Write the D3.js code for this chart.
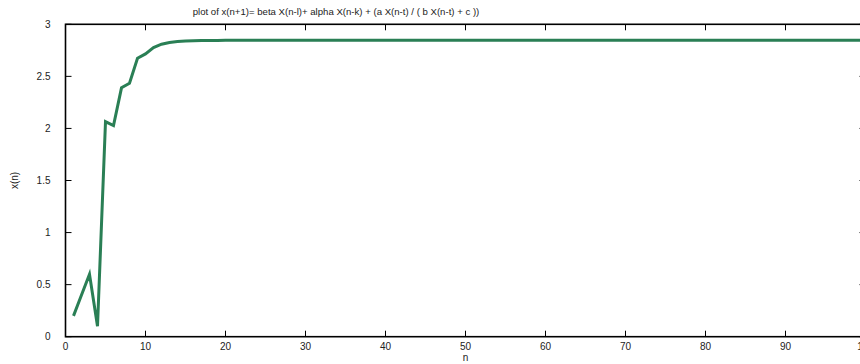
<!DOCTYPE html>
<html><head><meta charset="utf-8">
<script src="https://cdn.jsdelivr.net/npm/d3@7"></script>
<style>body{margin:0;background:#fff}svg{display:block}text{font-family:"Liberation Sans",Arial,sans-serif;fill:#222}</style>
</head><body>
<svg id="c" width="860" height="364"></svg>
<script>
const title = "plot of x(n+1)= beta X(n-l)+ alpha X(n-k) + (a X(n-t) / ( b X(n-t) + c ))";
const xLabel = "n";
const yLabel = "x(n)";
const xTicks = [0,10,20,30,40,50,60,70,80,90,100];
const yTicks = [0,0.5,1,1.5,2,2.5,3];
const yTickLabels = ["0","0.5","1","1.5","2","2.5","3"];
const nValues = [1,2,3,4,5,6,7,8,9,10,11,12,13,14,15,16,17,18,19,20,21,22,23,24,25,26,27,28,29,30,31,32,33,34,35,36,37,38,39,40,41,42,43,44,45,46,47,48,49,50,51,52,53,54,55,56,57,58,59,60,61,62,63,64,65,66,67,68,69,70,71,72,73,74,75,76,77,78,79,80,81,82,83,84,85,86,87,88,89,90,91,92,93,94,95,96,97,98,99,100];
const xValues = [0.2,0.4,0.6,0.1,2.065,2.027,2.39,2.434,2.674,2.716,2.776,2.809,2.826,2.834,2.839,2.842,2.844,2.845,2.845,2.846,2.846,2.846,2.846,2.846,2.846,2.846,2.846,2.846,2.846,2.846,2.846,2.846,2.846,2.846,2.846,2.846,2.846,2.846,2.846,2.846,2.846,2.846,2.846,2.846,2.846,2.846,2.846,2.846,2.846,2.846,2.846,2.846,2.846,2.846,2.846,2.846,2.846,2.846,2.846,2.846,2.846,2.846,2.846,2.846,2.846,2.846,2.846,2.846,2.846,2.846,2.846,2.846,2.846,2.846,2.846,2.846,2.846,2.846,2.846,2.846,2.846,2.846,2.846,2.846,2.846,2.846,2.846,2.846,2.846,2.846,2.846,2.846,2.846,2.846,2.846,2.846,2.846,2.846,2.846,2.846];

const svg = d3.select("#c");
const L = 65.5, R = 865.5, T = 24.3, B = 336.7;
const x = d3.scaleLinear().domain([0,100]).range([L,R]);
const y = d3.scaleLinear().domain([0,3]).range([B,T]);

// frame
svg.append("rect").attr("x",L).attr("y",T).attr("width",R-L).attr("height",B-T)
  .attr("fill","none").attr("stroke","#000").attr("stroke-width",1.6);

const tl = 6;
const g = svg.append("g").attr("stroke","#000").attr("stroke-width",1);
xTicks.forEach(v=>{
  g.append("line").attr("x1",x(v)).attr("x2",x(v)).attr("y1",B).attr("y2",B-tl);
  g.append("line").attr("x1",x(v)).attr("x2",x(v)).attr("y1",T).attr("y2",T+tl);
});
yTicks.forEach(v=>{
  g.append("line").attr("x1",L).attr("x2",L+tl).attr("y1",y(v)).attr("y2",y(v));
  g.append("line").attr("x1",R).attr("x2",R-tl).attr("y1",y(v)).attr("y2",y(v));
});

svg.append("g").selectAll("text").data(xTicks).join("text")
  .attr("x",d=>x(d)).attr("y",B+13.5).attr("text-anchor","middle")
  .attr("font-size",10).text(d=>d);
svg.append("g").selectAll("text").data(yTicks).join("text")
  .attr("x",L-15).attr("y",d=>y(d)+3.5).attr("text-anchor","end")
  .attr("font-size",10).text((d,i)=>yTickLabels[i]);

svg.append("text").attr("x",336).attr("y",15).attr("text-anchor","middle")
  .attr("font-size",9.6).text(title);
svg.append("text").attr("x",(L+R)/2).attr("y",361).attr("text-anchor","middle")
  .attr("font-size",10).text(xLabel);
svg.append("text").attr("transform","translate(18,180.5) rotate(-90)").attr("text-anchor","middle")
  .attr("font-size",10).text(yLabel);

const line = d3.line().x((d,i)=>x(nValues[i])).y(d=>y(d));
svg.append("path").datum(xValues).attr("d",line).attr("fill","none")
  .attr("stroke","#2a7f55").attr("stroke-width",3).attr("stroke-linejoin","miter");
</script>
</body></html>
